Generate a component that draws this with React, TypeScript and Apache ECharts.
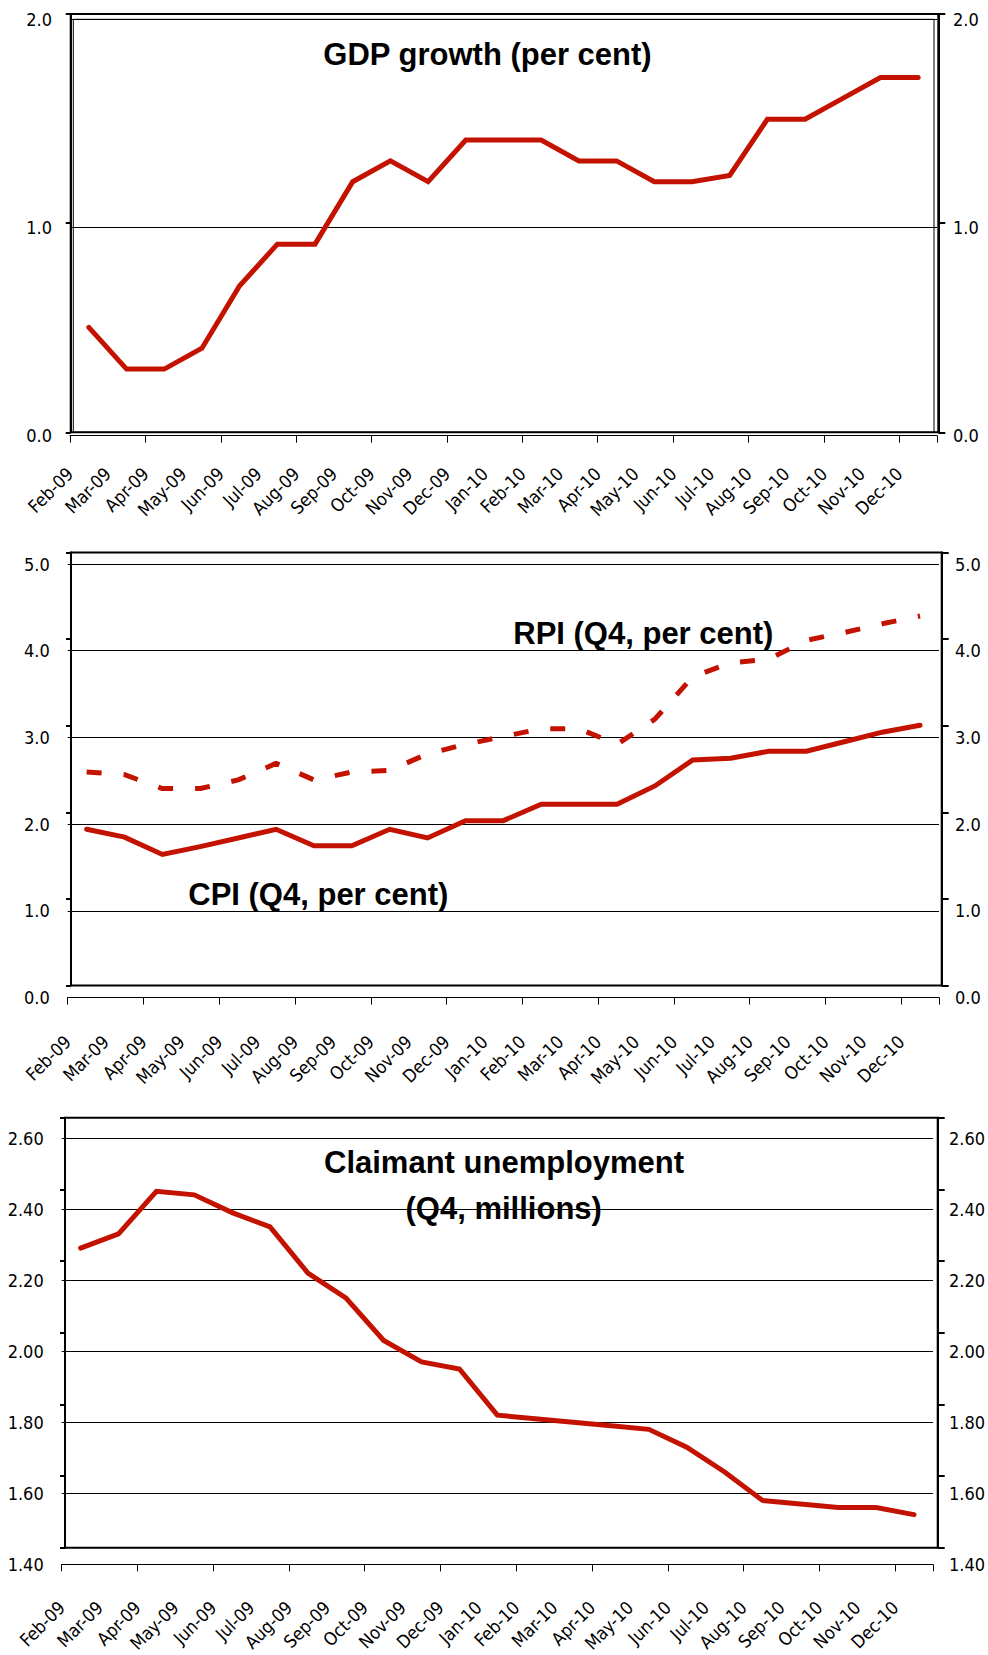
import React, { useEffect, useRef } from 'react';
import * as echarts from 'echarts';

// ---------- data ----------
const months = [
  'Feb-09', 'Mar-09', 'Apr-09', 'May-09', 'Jun-09', 'Jul-09', 'Aug-09', 'Sep-09',
  'Oct-09', 'Nov-09', 'Dec-09', 'Jan-10', 'Feb-10', 'Mar-10', 'Apr-10', 'May-10',
  'Jun-10', 'Jul-10', 'Aug-10', 'Sep-10', 'Oct-10', 'Nov-10', 'Dec-10',
];

const gdpGrowth = [
  0.52, 0.32, 0.32, 0.42, 0.72, 0.92, 0.92, 1.22, 1.32, 1.22, 1.42, 1.42,
  1.42, 1.32, 1.32, 1.22, 1.22, 1.25, 1.52, 1.52, 1.62, 1.72, 1.72,
];

const cpiQ4 = [
  1.94, 1.85, 1.65, 1.74, 1.84, 1.94, 1.75, 1.75, 1.94, 1.84, 2.04, 2.04,
  2.23, 2.23, 2.23, 2.44, 2.74, 2.76, 2.84, 2.84, 2.95, 3.06, 3.14,
];

const rpiQ4 = [
  2.6, 2.57, 2.41, 2.41, 2.51, 2.7, 2.51, 2.6, 2.62, 2.81, 2.92, 3.01,
  3.1, 3.1, 2.92, 3.21, 3.7, 3.86, 3.9, 4.12, 4.21, 4.31, 4.4,
];

const claimantQ4 = [
  2.29, 2.33, 2.45, 2.44, 2.39, 2.35, 2.22, 2.15, 2.03, 1.97, 1.95, 1.82,
  1.81, 1.8, 1.79, 1.78, 1.73, 1.66, 1.58, 1.57, 1.56, 1.56, 1.54,
];

// value-axis ranges: [min, max, step]
const gdpAxis = [0, 2, 1];
const inflationAxis = [0, 5, 1];
const claimantAxis = [1.4, 2.6, 0.2];

const titles = {
  gdp: 'GDP growth (per cent)',
  rpi: 'RPI (Q4, per cent)',
  cpi: 'CPI (Q4, per cent)',
  claimant1: 'Claimant unemployment',
  claimant2: '(Q4, millions)',
};

// ---------- styling / layout ----------
const RED = '#C41200';
const TICK_FONT = "'DejaVu Sans Condensed', 'DejaVu Sans', sans-serif";
const TICK_SIZE = 18;
const TITLE_FONT = "'Liberation Sans', Arial, sans-serif";

type Panel = {
  data: number[]; // l, t, r, b of plotting grid (labels / gridlines)
  frame: number[]; // l, t, r, b of framed box (axis lines + ticks)
  xOffset: number;
  labelMargin: number;
  axis: number[];
  decimals: number;
  series: any[];
};

const panels: Panel[] = [
  {
    data: [70, 19.3, 937, 435.7],
    frame: [70.7, 14, 938.3, 432.3],
    xOffset: 0,
    labelMargin: 35,
    axis: gdpAxis,
    decimals: 1,
    series: [{ name: 'GDP growth', values: gdpGrowth, dashed: false }],
  },
  {
    data: [67.7, 564, 939, 997.5],
    frame: [71, 552.5, 941.7, 985.5],
    xOffset: 5,
    labelMargin: 36,
    axis: inflationAxis,
    decimals: 1,
    series: [
      { name: 'RPI', values: rpiQ4, dashed: true },
      { name: 'CPI', values: cpiQ4, dashed: false },
    ],
  },
  {
    data: [61.7, 1138, 934, 1567.8],
    frame: [65, 1117.7, 937.7, 1547.7],
    xOffset: 0,
    labelMargin: 40,
    axis: claimantAxis,
    decimals: 2,
    series: [{ name: 'Claimant unemployment', values: claimantQ4, dashed: false }],
  },
];

function buildOption() {
  const grid: any[] = [];
  const xAxis: any[] = [];
  const yAxis: any[] = [];
  const series: any[] = [];

  panels.forEach((p) => {
    const [min, max, step] = p.axis;
    const gData = grid.length;
    grid.push({
      left: p.data[0],
      top: p.data[1],
      width: p.data[2] - p.data[0],
      height: p.data[3] - p.data[1],
      show: false,
    });
    const gFrame = grid.length;
    grid.push({
      left: p.frame[0],
      top: p.frame[1],
      width: p.frame[2] - p.frame[0],
      height: p.frame[3] - p.frame[1],
      show: true,
      borderColor: '#000',
      borderWidth: 2,
      backgroundColor: 'transparent',
    });

    const xData = xAxis.length;
    xAxis.push({
      type: 'category',
      gridIndex: gData,
      position: 'bottom',
      data: months,
      boundaryGap: true,
      offset: p.xOffset,
      axisLine: { show: true, lineStyle: { color: '#000', width: 1 } },
      axisTick: { show: true, length: 7, lineStyle: { color: '#000', width: 1 } },
      axisLabel: { show: false },
      splitLine: { show: false },
    });
    xAxis.push({
      type: 'category',
      gridIndex: gData,
      position: 'bottom',
      data: [...months, ''],
      boundaryGap: false,
      offset: p.xOffset,
      axisLine: { show: false },
      axisTick: { show: false },
      splitLine: { show: false },
      axisLabel: {
        show: true,
        interval: 0,
        rotate: 45,
        margin: p.labelMargin,
        fontSize: TICK_SIZE,
        fontFamily: TICK_FONT,
        color: '#000',
      },
    });
    xAxis.push({ type: 'category', gridIndex: gFrame, show: false, data: months });

    const fmt = (v: number) => v.toFixed(p.decimals);
    const yData = yAxis.length;
    yAxis.push({
      type: 'value',
      gridIndex: gData,
      position: 'left',
      min,
      max,
      interval: step,
      axisLine: { show: false },
      axisTick: { show: false },
      splitLine: { show: true, lineStyle: { color: '#000', width: 1 } },
      axisLabel: { formatter: fmt, margin: 18, fontSize: TICK_SIZE, fontFamily: TICK_FONT, color: '#000' },
    });
    yAxis.push({
      type: 'value',
      gridIndex: gData,
      position: 'right',
      min,
      max,
      interval: step,
      axisLine: { show: false },
      axisTick: { show: false },
      splitLine: { show: false },
      axisLabel: { formatter: fmt, margin: 16, fontSize: TICK_SIZE, fontFamily: TICK_FONT, color: '#000' },
    });
    yAxis.push({
      type: 'value',
      gridIndex: gFrame,
      position: 'left',
      min,
      max,
      interval: step,
      axisLine: { show: true, lineStyle: { color: '#000', width: 2 } },
      axisTick: { show: true, length: 5, lineStyle: { color: '#000', width: 2 } },
      axisLabel: { show: false },
      splitLine: { show: false },
    });
    yAxis.push({
      type: 'value',
      gridIndex: gFrame,
      position: 'right',
      min,
      max,
      interval: step,
      axisLine: { show: true, lineStyle: { color: '#000', width: 2 } },
      axisTick: { show: true, length: 7, lineStyle: { color: '#000', width: 2 } },
      axisLabel: { show: false },
      splitLine: { show: false },
    });

    p.series.forEach((s) => {
      series.push({
        type: 'line',
        name: s.name,
        xAxisIndex: xData,
        yAxisIndex: yData,
        data: s.values,
        symbol: 'none',
        smooth: false,
        z: 5,
        lineStyle: s.dashed
          ? { color: RED, width: 5, type: [15, 22], cap: 'butt' }
          : { color: RED, width: 5, type: 'solid', cap: 'round', join: 'miter' },
      });
    });
  });

  const titleStyle = (text: string) => ({
    text,
    fontSize: 31,
    fontWeight: 'bold',
    fontFamily: TITLE_FONT,
    fill: '#000',
    align: 'center',
    verticalAlign: 'middle',
  });

  const graphic = [
    {
      type: 'rect',
      silent: true,
      z: 1,
      shape: { x: 73.3, y: 19.3, width: 934 - 73.3, height: 432.3 - 19.3 },
      style: { fill: 'none', stroke: '#000', lineWidth: 1 },
    },
    { type: 'text', x: 487.5, y: 54, z: 10, style: titleStyle(titles.gdp) },
    { type: 'text', x: 643.3, y: 633, z: 10, style: titleStyle(titles.rpi) },
    { type: 'text', x: 318.3, y: 894.3, z: 10, style: titleStyle(titles.cpi) },
    { type: 'text', x: 504, y: 1162.5, z: 10, style: titleStyle(titles.claimant1) },
    { type: 'text', x: 503.7, y: 1208, z: 10, style: titleStyle(titles.claimant2) },
  ];

  return {
    animation: false,
    backgroundColor: '#fff',
    grid,
    xAxis,
    yAxis,
    series,
    graphic,
  };
}

export default function App() {
  const ref = useRef<HTMLDivElement>(null);
  useEffect(() => {
    if (!ref.current) return;
    const chart = echarts.init(ref.current, undefined, { renderer: 'svg' });
    chart.setOption(buildOption() as any);
    return () => chart.dispose();
  }, []);
  return (
    <div
      ref={ref}
      style={{ position: 'absolute', left: 0, top: 0, width: 988, height: 1655, background: '#fff' }}
    />
  );
}
